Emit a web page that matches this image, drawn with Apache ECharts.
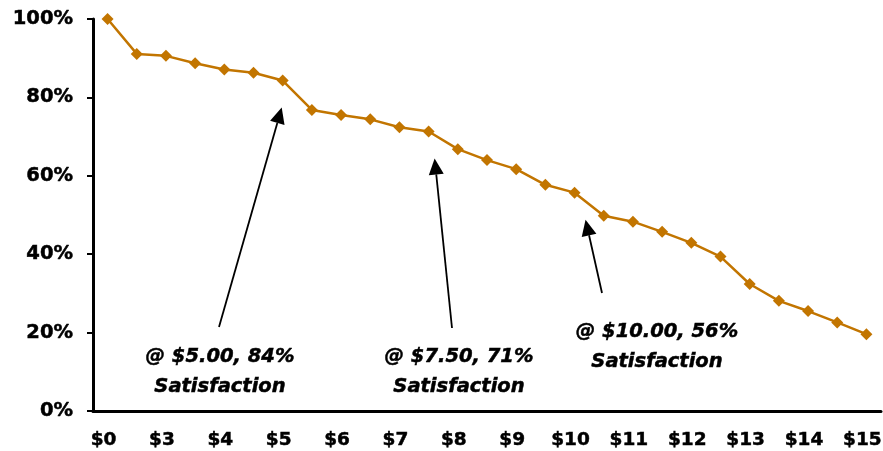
<!DOCTYPE html>
<html>
<head>
<meta charset="utf-8">
<script src="https://cdn.jsdelivr.net/npm/echarts@6/dist/echarts.min.js"></script>
<style>
  html, body { margin: 0; padding: 0; background: #fff; }
  #main { width: 883px; height: 451px; }
</style>
</head>
<body>
<div id="main"></div>
<script>
// price points (every other one is labelled on the axis)
const categories = ['$0', '$2.50', '$3', '$3.50', '$4', '$4.50', '$5', '$5.50', '$6', '$6.50',
  '$7', '$7.50', '$8', '$8.50', '$9', '$9.50', '$10', '$10.50', '$11', '$11.50',
  '$12', '$12.50', '$13', '$13.50', '$14', '$14.50', '$15']
// share of respondents satisfied, %
const satisfaction = [100, 91.1, 90.6, 88.7, 87.1, 86.3, 84.3, 76.8, 75.5, 74.4,
  72.4, 71.3, 66.8, 64.0, 61.7, 57.7, 55.7, 49.8, 48.3, 45.7,
  42.9, 39.4, 32.4, 28.1, 25.5, 22.6, 19.6]
const yTicks = [0, 20, 40, 60, 80, 100]

// callouts: which point, text, where the text sits
const callouts = [
  { idx: 6, lines: ['@ $5.00, 84%', 'Satisfaction'], text: [220, 357], tail: [219, 327], dx: -1 },
  { idx: 11, lines: ['@ $7.50, 71%', 'Satisfaction'], text: [459, 357], tail: [452, 328], dx: 6 },
  { idx: 16, lines: ['@ $10.00, 56%', 'Satisfaction'], text: [657, 332], tail: [602, 293], dx: 11 }
]

const font = 'DejaVu Sans'
const lineColor = '#C27500'

const myChart = echarts.init(document.getElementById('main'))
myChart.setOption({
  animation: false,
  grid: { left: 93, right: 2, top: 19, bottom: 40, outerBoundsMode: 'none' },
  xAxis: {
    type: 'category',
    data: categories,
    boundaryGap: true,
    axisLine: { lineStyle: { color: '#000', width: 3 } },
    axisTick: { interval: 0, length: 6, lineStyle: { color: '#000', width: 2 } },
    axisLabel: {
      interval: 1,
      margin: 20,
      padding: [0, 8, 0, 0],
      color: '#000',
      fontFamily: font,
      fontWeight: 'bold',
      fontSize: 18.5,
      textBorderColor: '#000',
      textBorderWidth: 0.5
    }
  },
  yAxis: {
    type: 'value',
    min: yTicks[0],
    max: yTicks[yTicks.length - 1],
    interval: 20,
    splitLine: { show: false },
    axisLine: { show: true, lineStyle: { color: '#000', width: 3 } },
    axisTick: { show: true, length: 6, lineStyle: { color: '#000', width: 2 } },
    axisLabel: {
      margin: 20,
      color: '#000',
      fontFamily: font,
      fontWeight: 'bold',
      fontSize: 19.5,
      textBorderColor: '#000',
      textBorderWidth: 0.5,
      formatter: '{value}%'
    }
  },
  series: [{
    type: 'line',
    data: satisfaction,
    symbol: 'diamond',
    symbolSize: 12,
    lineStyle: { color: lineColor, width: 2.5 },
    itemStyle: { color: lineColor }
  }]
})

// arrows + callout text
const graphics = []
callouts.forEach(c => {
  const p = myChart.convertToPixel({ seriesIndex: 0 }, [c.idx, satisfaction[c.idx]])
  const tip = [p[0] + c.dx, p[1] + 27]
  const vx = tip[0] - c.tail[0], vy = tip[1] - c.tail[1]
  const len = Math.sqrt(vx * vx + vy * vy)
  const ux = vx / len, uy = vy / len
  const headLen = 16, headW = 7.5
  const base = [tip[0] - ux * headLen, tip[1] - uy * headLen]
  graphics.push({
    type: 'line',
    shape: { x1: c.tail[0], y1: c.tail[1], x2: base[0], y2: base[1] },
    style: { stroke: '#000', lineWidth: 1.8 }
  })
  graphics.push({
    type: 'polygon',
    shape: { points: [tip, [base[0] - uy * headW, base[1] + ux * headW], [base[0] + uy * headW, base[1] - ux * headW]] },
    style: { fill: '#000' }
  })
  c.lines.forEach((t, i) => {
    graphics.push({
      type: 'text',
      x: c.text[0],
      y: c.text[1] + i * 30,
      style: {
        text: t,
        fill: '#000',
        stroke: '#000',
        lineWidth: 0.5,
        font: 'italic bold 19.5px "DejaVu Sans"',
        align: 'center',
        verticalAlign: 'middle'
      }
    })
  })
})
myChart.setOption({ graphic: graphics })
</script>
</body>
</html>
